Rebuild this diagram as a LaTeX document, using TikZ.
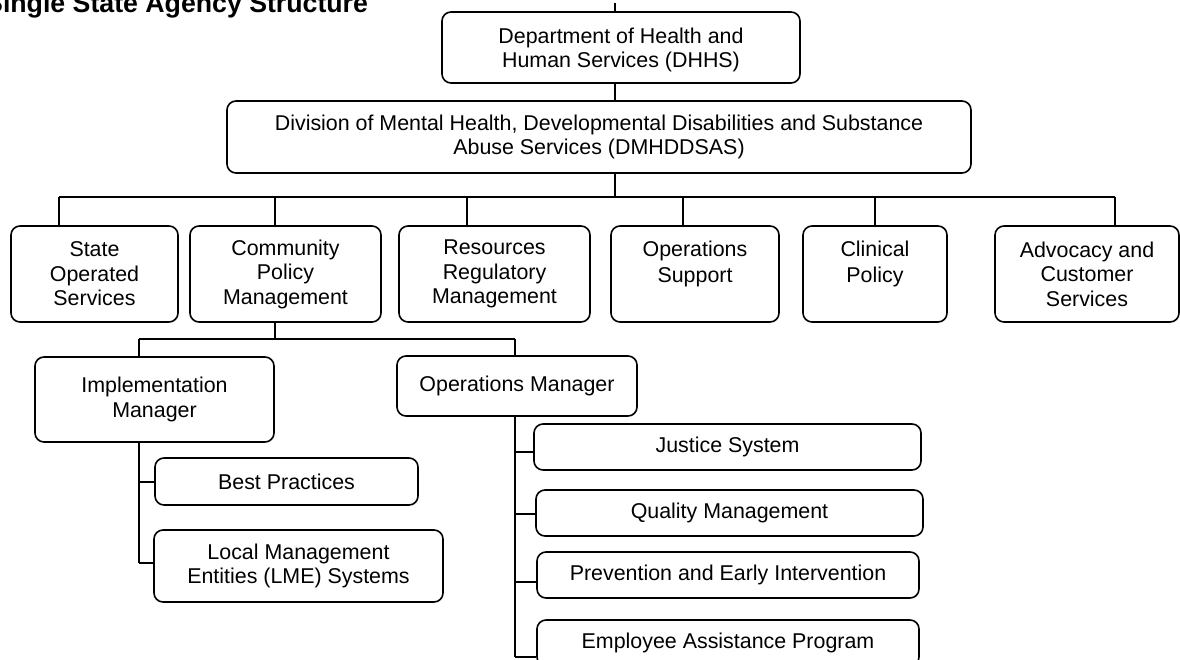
\documentclass[tikz,border=0pt]{standalone}
\usepackage{fontspec}
\setmainfont{Liberation Sans}
\begin{document}
\begin{tikzpicture}[x=1pt,y=-1pt,
  box/.style={draw, line width=1.6pt, rounded corners=9pt, align=center, inner sep=0pt,
    font=\fontsize{21.4}{24.5}\selectfont},
  conn/.style={line width=1.6pt}]
\useasboundingbox (0,0) rectangle (1180,660);
\clip (0,0) rectangle (1180,660);
\node[anchor=base west, inner sep=0pt, font=\bfseries\fontsize{26.7}{30}\selectfont] (title) at (-15,13) {Single State Agency Structure};
% level 0/1
\node[box, minimum width=358pt, minimum height=71pt] (dhhs) at (621,47.5) {\rule{0pt}{20pt}Department of Health and\\Human Services (DHHS)};
\node[box, minimum width=744pt, minimum height=72pt] (dmh) at (599,137) {Division of Mental Health, Developmental Disabilities and Substance\\Abuse Services (DMHDDSAS)};
% level 2
\node[box, minimum width=167pt, minimum height=96pt] (state) at (94.5,274) {State\\Operated\\Services};
\node[box, minimum width=191pt, minimum height=96pt] (cpm) at (285.5,274) {Community\\Policy\\Management};
\node[box, minimum width=191pt, minimum height=96pt] (res) at (494.5,274) {Resources\\Regulatory\\Management};
\node[box, minimum width=168pt, minimum height=96pt] (ops) at (695,274) {Operations\\[1.5pt]Support\\\mbox{}};
\node[box, minimum width=144pt, minimum height=96pt] (clin) at (875,274) {Clinical\\[1.5pt]Policy\\\mbox{}};
\node[box, minimum width=184pt, minimum height=96pt] (adv) at (1087,274) {Advocacy and\\Customer\\Services};
% level 3
\node[box, minimum width=239pt, minimum height=85pt] (impl) at (154.5,399.5) {Implementation\\Manager};
\node[box, minimum width=240pt, minimum height=60pt] (opsm) at (517,386) {Operations Manager};
% under implementation manager
\node[box, minimum width=263pt, minimum height=47pt] (best) at (286.5,481.5) {Best Practices};
\node[box, minimum width=289pt, minimum height=72pt] (lme) at (298.5,566) {Local Management\\Entities (LME) Systems};
% under operations manager
\node[box, minimum width=387pt, minimum height=46pt] (just) at (727.5,447) {Justice System};
\node[box, minimum width=387pt, minimum height=46pt] (qual) at (729.5,513) {Quality Management};
\node[box, minimum width=382pt, minimum height=46pt] (prev) at (728,575) {Prevention and Early Intervention};
\node[box, minimum width=382pt, minimum height=46pt] (emp) at (728,643) {Employee Assistance Program};
% connectors top
\coordinate (tick) at (615,3);
\draw[conn] (tick) -- (tick |- dhhs.north);
\draw[conn] (tick |- dhhs.south) -- (tick |- dmh.north);
\coordinate (busL) at (59,197);
\coordinate (busR) at (1115,197);
\draw[conn] (tick |- dmh.south) -- (tick |- busL);
\draw[conn] (busL) -- (busR);
\foreach \n/\x in {state/59, cpm/275, res/467, ops/683, clin/875, adv/1115}{
  \coordinate (tmp) at (\x,197);
  \draw[conn] (tmp) -- (tmp |- \n.north);
}
% level 3 bus
\coordinate (b3) at (275,339);
\coordinate (b3L) at (139,339);
\coordinate (b3R) at (515,339);
\draw[conn] (b3 |- cpm.south) -- (b3);
\draw[conn] (b3L) -- (b3R);
\draw[conn] (b3L) -- (b3L |- impl.north);
\draw[conn] (b3R) -- (b3R |- opsm.north);
% implementation manager children
\coordinate (iB) at (139,482);
\coordinate (iL) at (139,563);
\draw[conn] (b3L |- impl.south) -- (iL);
\draw[conn] (iB) -- (iB -| best.west);
\draw[conn] (iL) -- (iL -| lme.west);
% operations manager children
\coordinate (oJ) at (515,452);
\coordinate (oQ) at (515,514);
\coordinate (oP) at (515,582);
\coordinate (oE) at (515,657);
\draw[conn] (b3R |- opsm.south) -- (oE);
\draw[conn] (oJ) -- (oJ -| just.west);
\draw[conn] (oQ) -- (oQ -| qual.west);
\draw[conn] (oP) -- (oP -| prev.west);
\draw[conn] (oE) -- (oE -| emp.west);
\end{tikzpicture}
\end{document}
